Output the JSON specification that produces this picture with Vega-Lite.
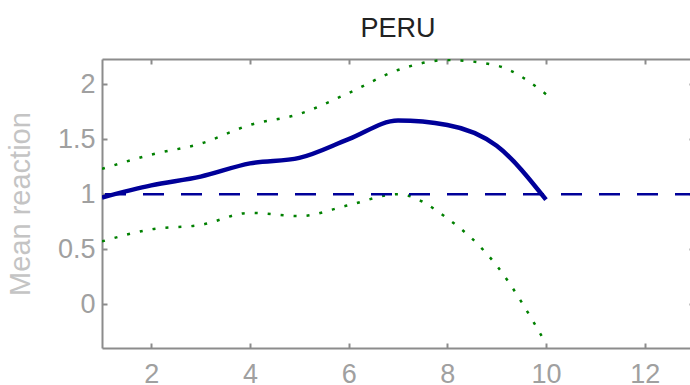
{
  "$schema": "https://vega.github.io/schema/vega-lite/v6.json",
  "autosize": {"type": "none"},
  "width": 592,
  "height": 289,
  "padding": {"left": 102, "top": 59, "right": 0, "bottom": 37},
  "background": "white",
  "config": {
    "view": {"stroke": null},
    "font": "Liberation Sans"
  },
  "title": {"text": "PERU", "fontSize": 27, "fontWeight": "normal", "color": "#222222", "font": "Liberation Sans", "offset": 15, "anchor": "middle"},
  "data": {"values": [
    {"x": 1, "mean": 0.97, "lo": 0.57, "hi": 1.23, "ref": 1},
    {"x": 2, "mean": 1.08, "lo": 0.68, "hi": 1.36, "ref": 1},
    {"x": 3, "mean": 1.16, "lo": 0.72, "hi": 1.46, "ref": 1},
    {"x": 4, "mean": 1.28, "lo": 0.83, "hi": 1.63, "ref": 1},
    {"x": 5, "mean": 1.33, "lo": 0.80, "hi": 1.73, "ref": 1},
    {"x": 6, "mean": 1.50, "lo": 0.90, "hi": 1.92, "ref": 1},
    {"x": 7, "mean": 1.67, "lo": 1.00, "hi": 2.13, "ref": 1},
    {"x": 8, "mean": 1.63, "lo": 0.78, "hi": 2.22, "ref": 1},
    {"x": 9, "mean": 1.44, "lo": 0.35, "hi": 2.17, "ref": 1},
    {"x": 10, "mean": 0.95, "lo": -0.36, "hi": 1.91, "ref": 1}
  ]},
  "resolve": {"axis": {"x": "independent", "y": "independent"}},
  "layer": [
    {
      "mark": {"type": "line", "color": "#008000", "strokeWidth": 2.5, "strokeDash": [3, 10], "interpolate": "monotone", "clip": true},
      "encoding": {
        "x": {"field": "x", "type": "quantitative", "scale": {"domain": [1, 13], "nice": false, "zero": false},
          "axis": {"orient": "bottom", "values": [2, 4, 6, 8, 10, 12], "title": null, "grid": false, "tickSize": -5, "tickWidth": 2, "tickColor": "#8c8c8c", "domainColor": "#8c8c8c", "domainWidth": 2, "labelFontSize": 27, "labelColor": "#a0a0a0", "labelPadding": 18, "labelFont": "Liberation Sans"}},
        "y": {"field": "lo", "type": "quantitative", "scale": {"domain": [-0.4, 2.23], "nice": false, "zero": false},
          "axis": {"orient": "left", "values": [0, 0.5, 1, 1.5, 2], "format": "~g", "title": "Mean reaction", "titleFontSize": 29, "titleFontWeight": "normal", "titleColor": "#c4c4c4", "titleFont": "Liberation Sans", "titlePadding": 22, "grid": false, "tickSize": -5, "tickWidth": 2, "tickColor": "#8c8c8c", "domainColor": "#8c8c8c", "domainWidth": 2, "labelFontSize": 27, "labelColor": "#a0a0a0", "labelPadding": 12, "labelFont": "Liberation Sans"}}
      }
    },
    {
      "mark": {"type": "line", "color": "#008000", "strokeWidth": 2.5, "strokeDash": [3, 10], "interpolate": "monotone", "clip": true},
      "encoding": {
        "x": {"field": "x", "type": "quantitative",
          "axis": {"orient": "top", "values": [2, 4, 6, 8, 10, 12], "title": null, "labels": false, "grid": false, "tickSize": -5, "tickWidth": 2, "tickColor": "#8c8c8c", "domainColor": "#8c8c8c", "domainWidth": 2}},
        "y": {"field": "hi", "type": "quantitative",
          "axis": {"orient": "right", "values": [0, 0.5, 1, 1.5, 2], "title": null, "labels": false, "grid": false, "tickSize": -5, "tickWidth": 2, "tickColor": "#8c8c8c", "domainColor": "#8c8c8c", "domainWidth": 2}}
      }
    },
    {
      "mark": {"type": "rule", "color": "#000099", "strokeWidth": 2.5, "strokeDash": [21, 17], "strokeDashOffset": 2},
      "encoding": {
        "y": {"field": "ref", "aggregate": "max", "type": "quantitative", "axis": null}
      }
    },
    {
      "mark": {"type": "line", "color": "#000099", "strokeWidth": 4.5, "interpolate": "monotone", "clip": true},
      "encoding": {
        "x": {"field": "x", "type": "quantitative", "axis": null},
        "y": {"field": "mean", "type": "quantitative", "axis": null}
      }
    }
  ]
}
